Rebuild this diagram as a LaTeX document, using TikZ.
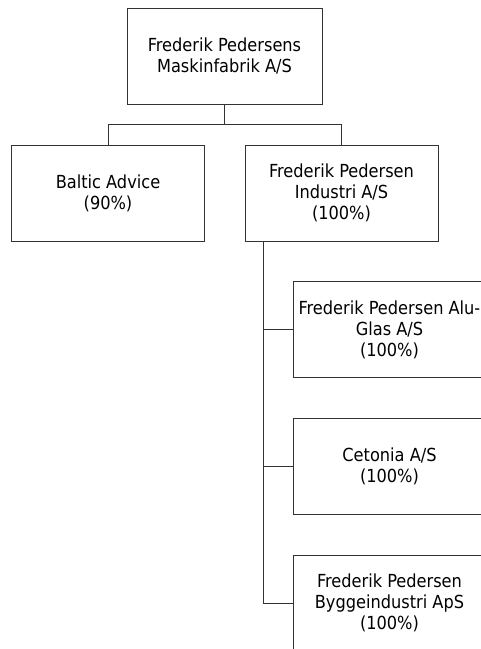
\documentclass[tikz,border=0pt]{standalone}
\usepackage{fontspec}
\setmainfont{DejaVu Sans Condensed}
\usepackage{tikz}
\usetikzlibrary{positioning}

\begin{document}
\begin{tikzpicture}[x=1pt, y=-1pt,
        company/.style={draw=black!80, line width=1pt, minimum width=193pt, minimum height=96pt,
            align=center, inner sep=0pt, font=\fontsize{18}{21}\selectfont},
        link/.style={draw=black!80, line width=1pt}]
        \useasboundingbox (0,0) rectangle (481,649);
        \clip (0,0) rectangle (481,649);

        \node[company, minimum width=195pt] (fpm) at (224.5,56) {Frederik Pedersens\\Maskinfabrik A/S};
        \node[company] (baltic) at (108,193) {Baltic Advice\\(90\%)};
        \node[company] (fpi) at (341.5,193) {Frederik Pedersen\\Industri A/S\\(100\%)};
        \node[company] (alu) at (389.5,329.5) {Frederik Pedersen Alu-\\Glas A/S\\(100\%)};
        \node[company] (cetonia) at (389.5,466.5) {Cetonia A/S\\(100\%)};
        \node[company] (bygge) at (389.5,603) {Frederik Pedersen\\Byggeindustri ApS\\(100\%)};

        \path[link] (fpm.south) -- ++(0,20) -| (baltic.north);
        \path[link] (fpm.south) -- ++(0,20) -| (fpi.north);

        \path (fpi.south west) ++(19,0) coordinate (trunk);
        \path[link] (trunk) |- (alu.west);
        \path[link] (trunk) |- (cetonia.west);
        \path[link] (trunk) |- (bygge.west);
\end{tikzpicture}
\end{document}
